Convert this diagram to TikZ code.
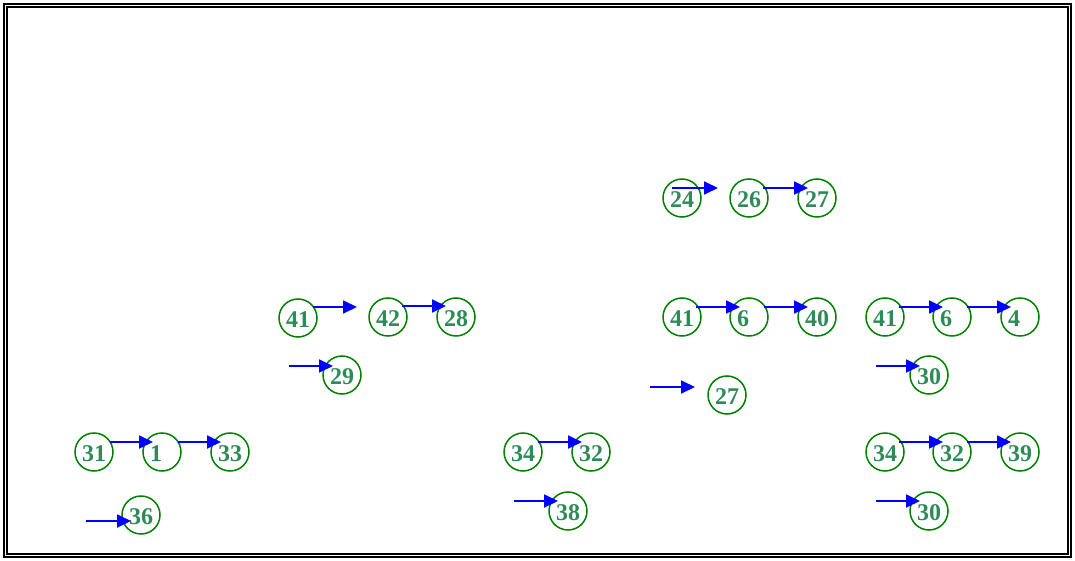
\documentclass[tikz,border=0pt]{standalone}
\usepackage{fontspec}
\setmainfont{Liberation Serif}
\usetikzlibrary{arrows.meta}
\definecolor{circgreen}{RGB}{0,128,0}
\definecolor{txtgreen}{RGB}{46,139,87}
\newcommand{\lbl}[1]{\raisebox{-1.5pt}[\height][\depth]{#1}}
\newcommand{\onelbl}[1]{\raisebox{-1.5pt}[\height][\depth]{\kern-6pt#1\kern6pt}}
\begin{document}
\begin{tikzpicture}[x=1pt,y=-1pt,
  num/.style={circle,draw=circgreen,line width=1.5pt,minimum size=38pt,inner sep=0pt,
    text=txtgreen,font=\fontsize{24}{24}\selectfont\bfseries},
  link/.style={draw=blue,line width=1.8pt,-{Triangle[length=14pt,width=13pt]}}]
\useasboundingbox (0,0) rectangle (1075,561);
\draw[line width=2pt] (3.7,3.7) rectangle (1071.3,557.3);
\draw[line width=2pt] (7,7) rectangle (1068,554);
% top group
\node[num] (a24) at (682,198) {\lbl{24}};
\node[num] (a26) at (749,198) {\lbl{26}};
\node[num] (a27) at (817,198) {\lbl{27}};
% 41 42 28
\node[num] (b41) at (298,318) {\lbl{41}};
\node[num] (b42) at (388,317) {\lbl{42}};
\node[num] (b28) at (456,317) {\lbl{28}};
\node[num] (b29) at (342,375) {\lbl{29}};
% 31 1 33
\node[num] (c31) at (94,452) {\lbl{31}};
\node[num] (c1) at (162,452) {\onelbl{1}};
\node[num] (c33) at (230,452) {\lbl{33}};
\node[num] (c36) at (141,515) {\lbl{36}};
% middle
\node[num] (d41) at (682,317) {\lbl{41}};
\node[num] (d6) at (749,317) {\onelbl{6}};
\node[num] (d40) at (817,317) {\lbl{40}};
\node[num] (d27) at (727,395) {\lbl{27}};
% right
\node[num] (e41) at (885,317) {\lbl{41}};
\node[num] (e6) at (952,317) {\onelbl{6}};
\node[num] (e4) at (1020,317) {\onelbl{4}};
\node[num] (e30) at (929,375) {\lbl{30}};
% 34 32
\node[num] (f34) at (523,452) {\lbl{34}};
\node[num] (f32) at (591,452) {\lbl{32}};
\node[num] (f38) at (568,511) {\lbl{38}};
% 34 32 39
\node[num] (g34) at (885,452) {\lbl{34}};
\node[num] (g32) at (952,452) {\lbl{32}};
\node[num] (g39) at (1020,452) {\lbl{39}};
\node[num] (g30) at (929,511) {\lbl{30}};
% arrow endpoints
\coordinate (s1) at (672,188); \coordinate (t1) at (718,188);
\coordinate (s2) at (763,188); \coordinate (t2) at (808,188);
\coordinate (s3) at (313,307); \coordinate (t3) at (357,307);
\coordinate (s4) at (402,306); \coordinate (t4) at (446,306);
\coordinate (s5) at (289,366); \coordinate (t5) at (333,366);
\coordinate (s6) at (110,442); \coordinate (t6) at (153,442);
\coordinate (s7) at (178,442); \coordinate (t7) at (221,442);
\coordinate (s8) at (86,521); \coordinate (t8) at (131,521);
\coordinate (s9) at (696,307); \coordinate (t9) at (740,307);
\coordinate (s10) at (764,307); \coordinate (t10) at (808,307);
\coordinate (s11) at (650,387); \coordinate (t11) at (695,387);
\coordinate (s12) at (899,307); \coordinate (t12) at (943,307);
\coordinate (s13) at (967,307); \coordinate (t13) at (1011,307);
\coordinate (s14) at (876,366); \coordinate (t14) at (920,366);
\coordinate (s15) at (538,442); \coordinate (t15) at (582,442);
\coordinate (s16) at (514,501); \coordinate (t16) at (558,501);
\coordinate (s17) at (899,442); \coordinate (t17) at (943,442);
\coordinate (s18) at (967,442); \coordinate (t18) at (1011,442);
\coordinate (s19) at (876,501); \coordinate (t19) at (920,501);
\foreach \i in {1,...,19} {\draw[link] (s\i) -- (t\i);}
\end{tikzpicture}
\end{document}
